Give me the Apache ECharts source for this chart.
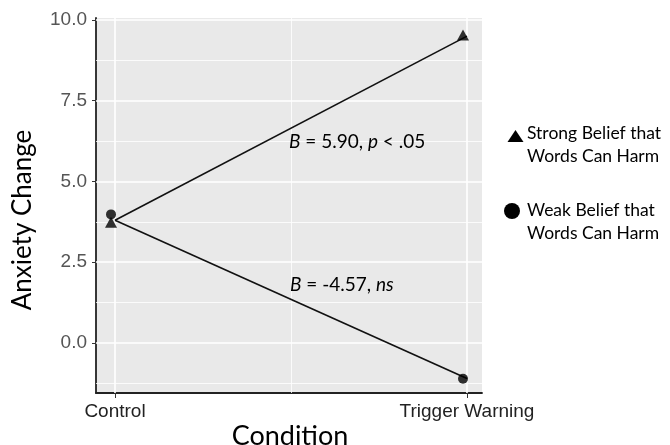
<!DOCTYPE html>
<html>
<head>
<meta charset="utf-8">
<script src="https://cdn.jsdelivr.net/npm/echarts@6/dist/echarts.min.js"></script>
<style>html,body{margin:0;padding:0;background:#fff}#c{width:670px;height:445px}</style>
</head>
<body>
<div id="c"></div>
<script>
// ---- data ----
const categories = ['Control', 'Trigger Warning'];
const strongPoints = [3.74, 9.53];   // triangles
const weakPoints = [3.98, -1.11];    // circles
const strongLine = [3.8, 9.5];
const weakLine = [3.8, -1.1];
const yTicks = [0, 2.5, 5, 7.5, 10];
const yMinor = [-1.25, 1.25, 3.75, 6.25, 8.75];
const xMinor = [1.5];
const seriesNames = ['Strong Belief that\nWords Can Harm', 'Weak Belief that\nWords Can Harm'];

const calFont = 'Lato';
const xs = categories.map((c, i) => i + 1);
const pairs = arr => arr.map((v, i) => [xs[i], v]);

const chart = echarts.init(document.getElementById('c'), null, {renderer: 'canvas'});

const gridLines = [];
yTicks.forEach(v => gridLines.push({yAxis: v, lineStyle: {color: '#fff', width: 1.6, type: 'solid'}}));
yMinor.forEach(v => gridLines.push({yAxis: v, lineStyle: {color: '#fff', width: 0.8, type: 'solid'}}));
xs.forEach(v => gridLines.push({xAxis: v, lineStyle: {color: '#fff', width: 1.6, type: 'solid'}}));
xMinor.forEach(v => gridLines.push({xAxis: v, lineStyle: {color: '#fff', width: 0.8, type: 'solid'}}));

chart.setOption({
  animation: false,
  grid: {left: 96, right: 188, top: 18, bottom: 52, show: true, backgroundColor: '#e9e9e9', borderWidth: 0},
  xAxis: {
    type: 'value', min: 0.946, max: 2.0426,
    splitLine: {show: false},
    axisLine: {show: true, onZero: false, lineStyle: {color: '#222', width: 1.8}},
    axisTick: {show: true, length: 5, customValues: xs, lineStyle: {color: '#333', width: 1}},
    axisLabel: {customValues: xs, formatter: v => categories[Math.round(v) - 1] || '',
      color: '#222', fontSize: 19, fontFamily: 'Liberation Sans', margin: 9},
  },
  yAxis: {
    type: 'value', min: -1.55, max: 10.06,
    splitLine: {show: false},
    axisLine: {show: true, onZero: false, lineStyle: {color: '#222', width: 1.8}},
    axisTick: {show: true, length: 4, customValues: yTicks, lineStyle: {color: '#333', width: 1}},
    axisLabel: {customValues: yTicks, formatter: v => v.toFixed(1),
      color: '#555', fontSize: 19, fontFamily: 'Liberation Sans', margin: 9},
  },
  series: [
    {type: 'line', data: [], z: 0, zlevel: 0, silent: true,
      markLine: {silent: true, symbol: ['none', 'none'], label: {show: false}, animation: false, data: gridLines}},
    {name: 'strongLine', type: 'line', data: pairs(strongLine), showSymbol: false, z: 3, zlevel: 1,
      lineStyle: {color: '#111', width: 1.6}},
    {name: 'weakLine', type: 'line', data: pairs(weakLine), showSymbol: false, z: 3, zlevel: 1,
      lineStyle: {color: '#111', width: 1.6}},
    {name: seriesNames[0], type: 'scatter', data: pairs(strongPoints), symbol: 'triangle', symbolSize: [12, 11],
      symbolOffset: [-4, 0], itemStyle: {color: '#000'}, z: 4, zlevel: 1},
    {name: seriesNames[1], type: 'scatter', data: pairs(weakPoints), symbol: 'circle', symbolSize: 10,
      symbolOffset: [-4, 0], itemStyle: {color: '#000'}, z: 4, zlevel: 1},
  ],
  graphic: [
    {type: 'text', x: 289, y: 142, z: 10, zlevel: 1, style: {
      text: '{i|B} = 5.90, {i|p} < .05', textVerticalAlign: 'middle', fill: '#000',
      font: '19px ' + calFont,
      rich: {i: {fontStyle: 'italic', fontSize: 19, fontFamily: calFont, fill: '#000'}}}},
    {type: 'text', x: 290, y: 285, z: 10, zlevel: 1, style: {
      text: '{i|B} = -4.57, {i|ns}', textVerticalAlign: 'middle', fill: '#000',
      font: '19px ' + calFont,
      rich: {i: {fontStyle: 'italic', fontSize: 19, fontFamily: calFont, fill: '#000'}}}},
    {type: 'text', x: 23, y: 220, rotation: Math.PI / 2, style: {
      text: 'Anxiety Change', textAlign: 'center', textVerticalAlign: 'middle', fill: '#000',
      font: '26px ' + calFont}},
    {type: 'text', x: 290, y: 436, style: {
      text: 'Condition', textAlign: 'center', textVerticalAlign: 'middle', fill: '#000',
      font: '27px ' + calFont}},
    // legend
    {type: 'polygon', shape: {points: [[515.5, 130], [523.5, 142], [507.5, 142]]}, style: {fill: '#000'}},
    {type: 'text', x: 527, y: 145, style: {
      text: seriesNames[0], textVerticalAlign: 'middle', fill: '#000', font: '17.5px ' + calFont, lineHeight: 23}},
    {type: 'circle', shape: {cx: 512, cy: 211, r: 8}, style: {fill: '#000'}},
    {type: 'text', x: 527, y: 222, style: {
      text: seriesNames[1], textVerticalAlign: 'middle', fill: '#000', font: '17.5px ' + calFont, lineHeight: 23}},
  ]
});
</script>
</body>
</html>
